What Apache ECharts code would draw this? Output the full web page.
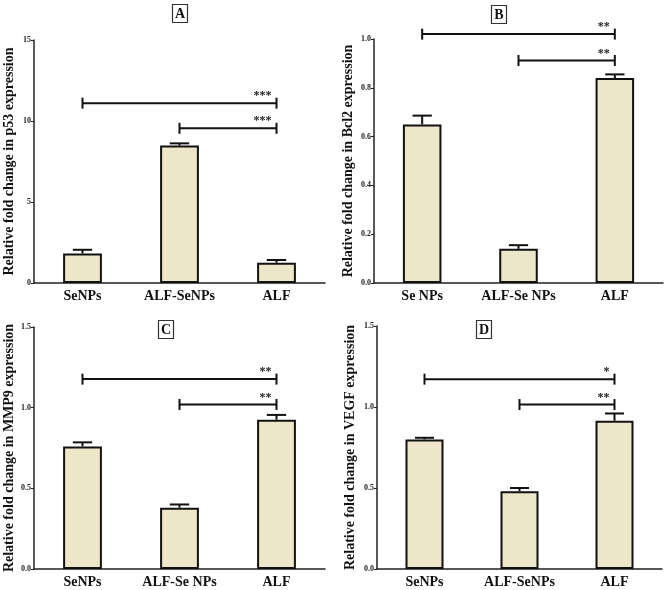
<!DOCTYPE html>
<html>
<head>
<meta charset="utf-8">
<script src="https://cdn.jsdelivr.net/npm/echarts@6/dist/echarts.min.js"></script>
<style>html,body{margin:0;padding:0;background:#fff}#c{width:669px;height:590px}</style>
</head>
<body>
<div id="c"></div>
<script>
// ---- data ----
const catsA = ['SeNPs', 'ALF-SeNPs', 'ALF'];
const catsB = ['Se NPs', 'ALF-Se NPs', 'ALF'];
const catsC = ['SeNPs', 'ALF-Se NPs', 'ALF'];
const catsD = ['SeNPs', 'ALF-SeNPs', 'ALF'];

const p53Mean = [1.82, 8.48, 1.25];
const p53Err = [2.05, 8.62, 1.42];
const bcl2Mean = [0.65, 0.14, 0.84];
const bcl2Err = [0.686, 0.155, 0.855];
const mmp9Mean = [0.76, 0.38, 0.925];
const mmp9Err = [0.785, 0.40, 0.955];
const vegfMean = [0.80, 0.48, 0.915];
const vegfErr = [0.81, 0.50, 0.96];

// brackets: [fromIndex, toIndex, yValue, label]
const p53Sig = [[0, 2, 11.1, '***'], [1, 2, 9.55, '***']];
const bcl2Sig = [[0, 2, 1.02, '**'], [1, 2, 0.912, '**']];
const mmp9Sig = [[0, 2, 1.177, '**'], [1, 2, 1.02, '**']];
const vegfSig = [[0, 2, 1.172, '*'], [1, 2, 1.015, '**']];

const yMax = [15, 1.0, 1.5, 1.5];
const yStep = [5, 0.2, 0.5, 0.5];
const yDigits = [0, 1, 1, 1];
const yNames = [
  'Relative fold change in p53 expression',
  'Relative fold change in Bcl2 expression',
  'Relative fold change in MMP9 expression',
  'Relative fold change in VEGF expression'
];
const panelLetters = ['A', 'B', 'C', 'D'];

// ---- layout / style ----
const FONT = "'Liberation Serif','Times New Roman',serif";
const grids = [
  {left: 34, top: 40, width: 291, height: 243},
  {left: 374, top: 39, width: 289, height: 244},
  {left: 34, top: 327, width: 291, height: 242},
  {left: 377, top: 326, width: 285, height: 243}
];
const nameGaps = [18, 19, 18, 20];
const titlePos = [[177, 4], [496, 5], [163, 320], [481, 320]];
const cats = [catsA, catsB, catsC, catsD];
const means = [p53Mean, bcl2Mean, mmp9Mean, vegfMean];
const errs = [p53Err, bcl2Err, mmp9Err, vegfErr];
const sigs = [p53Sig, bcl2Sig, mmp9Sig, vegfSig];

const xAxes = [], yAxes = [], series = [], titles = [];
for (let i = 0; i < 4; i++) {
  xAxes.push({
    type: 'category', gridIndex: i, data: cats[i],
    axisLine: {lineStyle: {color: '#222', width: 1.5}},
    axisTick: {alignWithLabel: true, length: 4, lineStyle: {color: '#222', width: 1.2}},
    axisLabel: {interval: 0, color: '#111', fontFamily: FONT, fontWeight: 'bold', fontSize: 14, margin: 6}
  });
  const d = yDigits[i];
  yAxes.push({
    type: 'value', gridIndex: i, min: 0, max: yMax[i], interval: yStep[i],
    name: yNames[i], nameLocation: 'middle', nameGap: nameGaps[i],
    nameTextStyle: {color: '#111', fontFamily: FONT, fontWeight: 'bold', fontSize: 14},
    axisLine: {show: true, lineStyle: {color: '#222', width: 1.5}},
    axisTick: {show: true, length: 3, lineStyle: {color: '#222', width: 1}},
    splitLine: {show: false},
    axisLabel: {color: '#222', fontFamily: FONT, fontWeight: 'bold', fontSize: 8, margin: 3,
      formatter: v => v.toFixed(d)}
  });
  series.push({
    type: 'bar', xAxisIndex: i, yAxisIndex: i, data: means[i], barWidth: '40%',
    itemStyle: {color: '#ede6c9', borderColor: '#111', borderWidth: 2},
    silent: true, animation: false
  });
  const ebData = means[i].map((m, k) => [k, m, errs[i][k]]);
  series.push({
    type: 'custom', xAxisIndex: i, yAxisIndex: i, data: ebData, animation: false, silent: true,
    z: 3,
    renderItem: (params, api) => {
      const x = api.value(0);
      const p0 = api.coord([x, api.value(1)]);
      const p1 = api.coord([x, api.value(2)]);
      const half = api.size([1, 0])[0] * 0.1;
      const st = {stroke: '#111', lineWidth: 2};
      return {type: 'group', children: [
        {type: 'line', shape: {x1: p0[0], y1: p0[1], x2: p1[0], y2: p1[1]}, style: st},
        {type: 'line', shape: {x1: p1[0] - half, y1: p1[1], x2: p1[0] + half, y2: p1[1]}, style: st}
      ]};
    }
  });
  series.push({
    type: 'custom', xAxisIndex: i, yAxisIndex: i, data: sigs[i], animation: false, silent: true,
    z: 4,
    renderItem: (params, api) => {
      const a = api.coord([api.value(0), api.value(2)]);
      const b = api.coord([api.value(1), api.value(2)]);
      const lab = sigs[i][params.dataIndex][3];
      const st = {stroke: '#111', lineWidth: 2};
      return {type: 'group', children: [
        {type: 'line', shape: {x1: a[0], y1: a[1], x2: b[0], y2: b[1]}, style: st},
        {type: 'line', shape: {x1: a[0], y1: a[1] - 5.5, x2: a[0], y2: a[1] + 5.5}, style: st},
        {type: 'line', shape: {x1: b[0], y1: b[1] - 5.5, x2: b[0], y2: b[1] + 5.5}, style: st},
        {type: 'text', x: b[0] - 5, y: b[1] - 1, style: {text: lab, fill: '#222',
          font: 'bold 12px ' + FONT, textAlign: 'right', textVerticalAlign: 'bottom'}}
      ]};
    }
  });
  titles.push({
    text: panelLetters[i], left: titlePos[i][0], top: titlePos[i][1],
    textAlign: 'center',
    textStyle: {color: '#111', fontFamily: FONT, fontWeight: 'bold', fontSize: 14, lineHeight: 14},
    borderColor: '#333', borderWidth: 1.2, padding: [3, 3, 2, 3]
  });
}

const chart = echarts.init(document.getElementById('c'), null, {renderer: 'canvas'});
chart.setOption({
  backgroundColor: '#fff',
  animation: false,
  title: titles,
  grid: grids,
  xAxis: xAxes,
  yAxis: yAxes,
  series: series
});
</script>
</body>
</html>
